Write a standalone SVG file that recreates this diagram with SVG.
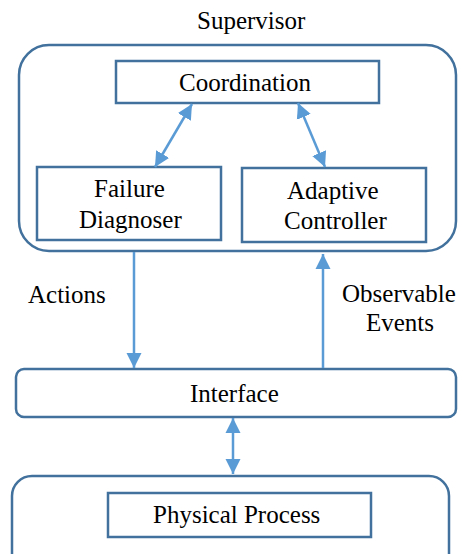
<svg xmlns="http://www.w3.org/2000/svg" width="463" height="554" viewBox="0 0 463 554">
  <defs>
    <marker id="head" markerUnits="userSpaceOnUse" markerWidth="16" markerHeight="16" viewBox="0 0 16 16" refX="15" refY="8" orient="auto-start-reverse">
      <path d="M0,0.5 L15,8 L0,15.5 Z" fill="#5b9bd5"/>
    </marker>
  </defs>

  <rect width="463" height="554" fill="#ffffff"/>

  <g fill="#ffffff" stroke="#41719c" stroke-width="2.5">
    <g id="supervisor">
      <rect x="19" y="45" width="437" height="206" rx="30"/>
    </g>
    <g id="coordination">
      <rect x="116" y="61" width="263" height="42"/>
    </g>
    <g id="failure-diagnoser">
      <rect x="37" y="167" width="184" height="73"/>
    </g>
    <g id="adaptive-controller">
      <rect x="242" y="168" width="184" height="74"/>
    </g>
    <g id="interface">
      <rect x="16" y="369" width="440" height="48" rx="8"/>
    </g>
    <g id="physical">
      <rect x="12" y="476" width="437" height="100" rx="20"/>
      <rect x="108" y="493" width="263" height="44"/>
    </g>
  </g>

  <g id="texts">
    <text x="197" y="29" style="font-family: 'Liberation Serif', serif; font-size: 25px">Supervisor</text>
    <text x="179" y="91" style="font-family: 'Liberation Serif', serif; font-size: 25px">Coordination</text>
    <text x="94" y="197" style="font-family: 'Liberation Serif', serif; font-size: 25px">Failure</text>
    <text x="79" y="228" style="font-family: 'Liberation Serif', serif; font-size: 25px">Diagnoser</text>
    <text x="287" y="199" style="font-family: 'Liberation Serif', serif; font-size: 25px">Adaptive</text>
    <text x="284" y="229" style="font-family: 'Liberation Serif', serif; font-size: 25px">Controller</text>
    <text x="190" y="402" style="font-family: 'Liberation Serif', serif; font-size: 25px">Interface</text>
    <text x="153" y="523" style="font-family: 'Liberation Serif', serif; font-size: 25px">Physical Process</text>
    <text x="28" y="303" style="font-family: 'Liberation Serif', serif; font-size: 25px">Actions</text>
    <text x="342" y="302" style="font-family: 'Liberation Serif', serif; font-size: 25px">Observable</text>
    <text x="366" y="331" style="font-family: 'Liberation Serif', serif; font-size: 25px">Events</text>
  </g>

  <g id="connectors" fill="none" stroke="#5b9bd5" stroke-width="2.5">
    <line x1="192" y1="104" x2="155" y2="167" marker-start="url(#head)" marker-end="url(#head)"/>
    <line x1="298" y1="103" x2="325" y2="167" marker-start="url(#head)" marker-end="url(#head)"/>
    <line x1="134" y1="252" x2="134" y2="368" marker-end="url(#head)"/>
    <line x1="323" y1="368" x2="323" y2="254" marker-end="url(#head)"/>
    <line x1="233" y1="418" x2="233" y2="474" marker-start="url(#head)" marker-end="url(#head)"/>
  </g>
</svg>
